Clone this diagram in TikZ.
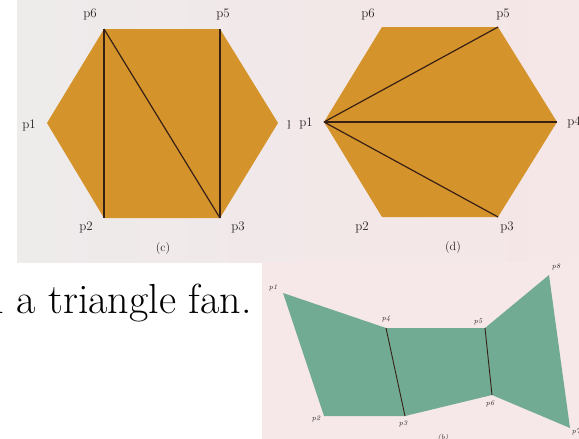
\documentclass[tikz,border=0pt]{standalone}
\usetikzlibrary{positioning}
\definecolor{scanLeft}{RGB}{238,235,235}
\definecolor{scanRight}{RGB}{245,230,231}
\definecolor{scanPink}{RGB}{246,231,232}
\definecolor{hexOrange}{RGB}{213,147,43}
\definecolor{stripGreen}{RGB}{113,171,147}
\definecolor{edgeDark}{RGB}{55,32,22}
\definecolor{labelInk}{RGB}{40,35,35}

\begin{document}
\begin{tikzpicture}[
  x=1pt,y=-1pt,
  face/.style={fill=hexOrange},
  strip/.style={fill=stripGreen},
  diag/.style={draw=edgeDark,line width=1.2pt},
  vlabel/.style={text=labelInk,inner sep=0pt,font=\fontsize{13}{14}\selectfont},
  slabel/.style={text=labelInk,inner sep=0pt,font=\fontsize{7}{8}\selectfont\itshape},
  caption/.style={text=labelInk,inner sep=0pt,font=\fontsize{12}{13}\selectfont}
]
  \clip (0,0) rectangle (579,439);
  \fill[white] (0,0) rectangle (579,439);
  % scanned panels
  \shade[left color=scanLeft,right color=scanRight] (17,0) rectangle (579,262);
  \fill[scanPink] (262,262) rectangle (579,439);

  % hexagon (c)
  \coordinate (c1) at (47,123);
  \coordinate (c2) at (104,218);
  \coordinate (c3) at (220,218);
  \coordinate (c4) at (278,123);
  \coordinate (c5) at (220,29);
  \coordinate (c6) at (104,29);
  \fill[face] (c1) -- (c2) -- (c3) -- (c4) -- (c5) -- (c6) -- cycle;
  \draw[diag] (c6) -- (c2);
  \draw[diag] (c6) -- (c3);
  \draw[diag] (c5) -- (c3);
  \node[vlabel] (c1l) at (29,125) {p1};
  \node[vlabel] (c2l) at (86,227) {p2};
  \node[vlabel] (c3l) at (238,227) {p3};
  \node[vlabel] (c4l) at (294,123) {p4};
  \node[vlabel] (c5l) at (223,14) {p5};
  \node[vlabel] (c6l) at (90,14) {p6};
  \node[caption] (ccap) at (163,249) {(c)};

  % hexagon (d), its panel laps over (c)
  \shade[left color=scanRight!60!scanLeft,right color=scanRight] (290,0) rectangle (579,262);
  \coordinate (d1) at (324,122);
  \coordinate (d2) at (382,217);
  \coordinate (d3) at (498,217);
  \coordinate (d4) at (557,122);
  \coordinate (d5) at (498,27);
  \coordinate (d6) at (382,27);
  \fill[face] (d1) -- (d2) -- (d3) -- (d4) -- (d5) -- (d6) -- cycle;
  \draw[diag] (d1) -- (d5);
  \draw[diag] (d1) -- (d4);
  \draw[diag] (d1) -- (d3);
  \node[vlabel] (d1l) at (306,123) {p1};
  \node[vlabel] (d2l) at (362,227) {p2};
  \node[vlabel] (d3l) at (507,227) {p3};
  \node[vlabel] (d4l) at (574,122) {p4};
  \node[vlabel] (d5l) at (503,14) {p5};
  \node[vlabel] (d6l) at (368,14) {p6};
  \node[caption] (dcap) at (453,248) {(d)};

  % running text
  \node[anchor=base west,inner sep=0pt,font=\fontsize{42}{46}\selectfont] (fan)
    at (-18,313) {n a triangle fan.};

  % quad strip (b)
  \fill[scanPink] (262,262) rectangle (579,439);
  \coordinate (b1) at (283,293);
  \coordinate (b2) at (324,416);
  \coordinate (b3) at (405,416);
  \coordinate (b4) at (386,328);
  \coordinate (b5) at (485,328);
  \coordinate (b6) at (492,395);
  \coordinate (b7) at (570,428);
  \coordinate (b8) at (549,275);
  \fill[strip] (b1) -- (b4) -- (b5) -- (b8) -- (b7) -- (b6) -- (b3) -- (b2) -- cycle;
  \draw[diag,line width=0.9pt] (b4) -- (b3);
  \draw[diag,line width=0.9pt] (b5) -- (b6);
  \node[slabel] (b1l) at (273,288) {p1};
  \node[slabel] (b2l) at (316,419) {p2};
  \node[slabel] (b3l) at (403,424) {p3};
  \node[slabel] (b4l) at (386,319) {p4};
  \node[slabel] (b5l) at (478,322) {p5};
  \node[slabel] (b6l) at (490,404) {p6};
  \node[slabel] (b7l) at (576,432) {p7};
  \node[slabel] (b8l) at (556,267) {p8};
  \node[slabel] (bcap) at (443,438) {(b)};
\end{tikzpicture}
\end{document}
